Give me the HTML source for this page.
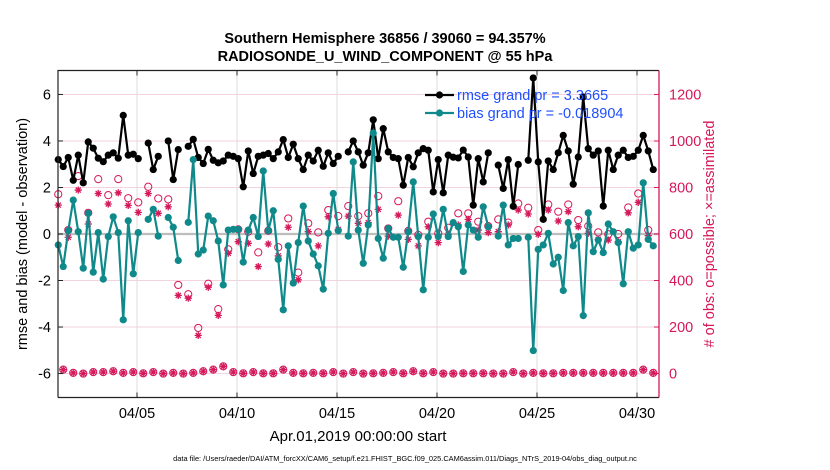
<!DOCTYPE html>
<html><head><meta charset="utf-8"><style>
html,body{margin:0;padding:0;background:#fff;}
svg{display:block;font-family:"Liberation Sans",Arial,sans-serif;}
</style></head><body>
<svg id="chart" width="830" height="470" viewBox="0 0 830 470">
  <rect x="0" y="0" width="830" height="470" fill="#fff"/>
  <text x="385" y="43" text-anchor="middle" font-size="14.5" font-weight="bold">Southern Hemisphere 36856 / 39060 = 94.357%</text>
  <text x="385" y="61" text-anchor="middle" font-size="14.5" font-weight="bold">RADIOSONDE_U_WIND_COMPONENT @ 55 hPa</text>
  <g id="grid"></g>
  <g id="marks"></g>
  <g id="axes"></g>
  <text transform="translate(27,234) rotate(-90)" text-anchor="middle" font-size="14.5">rmse and bias (model - observation)</text>
  <text transform="translate(714,234) rotate(-90)" text-anchor="middle" font-size="14.5" fill="#d6175a"># of obs: o=possible; ×=assimilated</text>
  <text x="358" y="441" text-anchor="middle" font-size="15">Apr.01,2019 00:00:00 start</text>
  <text x="405" y="461" text-anchor="middle" font-size="7.4">data file: /Users/raeder/DAI/ATM_forcXX/CAM6_setup/f.e21.FHIST_BGC.f09_025.CAM6assim.011/Diags_NTrS_2019-04/obs_diag_output.nc</text>
  <g id="legend"></g>
</svg>
<script>
const rmse = [3.2,2.9,3.29,2.31,3.39,2.2,3.96,3.69,3.26,3.11,3.39,3.49,3.26,5.1,3.39,3.43,3.24,null,3.91,2.77,
3.34,null,4.0,2.34,3.63,null,3.77,4.07,3.29,3.03,3.64,3.17,3.06,3.14,3.39,3.34,3.24,2.03,3.57,2.6,
3.34,3.39,3.46,3.24,3.53,4.06,3.29,3.86,3.24,2.77,3.39,3.14,3.6,2.91,3.49,3.03,3.34,null,3.53,4.0,
3.53,2.96,3.49,4.91,3.24,4.53,3.53,3.29,3.24,2.1,3.29,2.89,3.49,3.67,3.6,1.81,3.2,1.77,3.39,3.3,
3.27,3.61,3.31,1.24,3.24,2.24,3.49,null,2.96,1.96,3.2,1.19,2.99,null,3.17,6.71,3.1,0.63,3.14,2.77,
3.49,4.24,3.57,2.14,3.31,5.89,3.67,3.39,3.57,1.2,3.6,2.77,3.39,3.6,3.29,3.34,3.6,4.24,3.57,2.77];
const bias = [-0.47,-1.4,0.14,1.46,0.1,-1.47,0.89,-1.64,0.06,-1.94,-0.11,0.74,0.06,-3.69,0.57,-1.71,0.06,null,0.63,1.06,
-0.09,null,0.71,0.29,-1.14,null,0.5,3.2,-0.86,-0.69,0.77,0.57,-0.3,-2.19,0.17,0.2,0.2,-1.21,0.17,0.71,
-0.11,2.71,0.14,1.0,-1.09,-3.26,-0.51,-2.11,-0.37,1.2,-0.3,-0.86,-1.37,-2.37,0.03,1.74,0.14,null,-0.09,3.1,
0.17,-1.26,0.39,4.34,-0.19,-1.04,0.24,-0.14,-0.14,-1.43,0.1,2.24,-0.11,-2.4,-0.14,0.86,-0.11,1.06,-0.11,0.49,
0.31,-1.61,0.39,0.17,-0.14,1.17,0.31,null,-0.09,1.24,-0.47,-0.19,-0.19,null,-0.14,-5.01,-0.66,-0.47,0.03,-1.29,
-1.0,-2.43,0.49,-0.51,-0.11,-3.51,0.91,-0.76,-0.26,-0.8,0.43,0.1,-0.37,-2.14,0.1,-0.61,-0.47,2.2,-0.23,-0.51];
const possible = [771,17,617,3,849,0,691,6,836,6,767,10,836,3,754,6,736,1,803,6,
753,0,749,3,381,0,341,3,196,10,386,17,277,31,534,6,620,1,610,6,
521,1,614,1,543,17,667,3,434,1,646,3,607,1,703,6,677,0,720,6,
677,0,689,1,763,3,624,6,741,1,613,10,596,1,653,6,603,0,627,0,
689,1,689,1,653,1,634,0,663,0,649,6,731,0,713,3,617,1,727,1,
696,3,727,3,660,3,634,3,607,3,599,3,600,3,714,3,774,17,617,3];
const assimilated = [724,17,586,3,789,0,643,6,774,6,729,10,777,3,723,6,693,1,774,6,
689,0,717,3,336,0,324,3,164,10,371,17,250,31,517,6,567,1,560,6,
460,1,557,1,506,17,629,3,403,1,610,3,549,1,674,6,620,0,677,6,
646,0,649,1,706,3,591,6,681,1,577,10,549,1,631,6,563,0,599,0,
639,1,663,1,617,1,606,0,610,0,639,6,703,0,686,3,599,1,703,1,
656,3,696,3,631,3,603,3,577,3,574,3,567,3,691,3,736,17,593,3];
const leftTicks = [-6,-4,-2,0,2,4,6];
const rightTicks = [0,200,400,600,800,1000,1200];
const dateTickDays = [4,9,14,19,24,29];
const dateTickLabels = ["04/05","04/10","04/15","04/20","04/25","04/30"];
const legendLabels = ["rmse grand pr = 3.3665","bias grand pr = -0.018904"];

const NS="http://www.w3.org/2000/svg";
const PL=58, PR=659, PT=70.5, PB=397.5;
const D0=0.05, D1=30.1, Y0=-7.03, Y1=7.03;
function xs(d){return PL+(d-D0)/(D1-D0)*(PR-PL);}
function ys(v){return PB-(v-Y0)/(Y1-Y0)*(PB-PT);}
function yc(c){return ys(-6+c/100);}
function tday(k){return 0.0625+0.25*k;}
function mk(tag,attrs,parent){const e=document.createElementNS(NS,tag);for(const a in attrs)e.setAttribute(a,attrs[a]);parent.appendChild(e);return e;}
const grid=document.getElementById('grid'),marks=document.getElementById('marks'),axes=document.getElementById('axes'),legend=document.getElementById('legend');
const RED="#d6175a", TEAL="#10898a";

// grid
rightTicks.forEach(c=>{const l=mk('line',{x1:PL,x2:PR,y1:yc(c),y2:yc(c),stroke:"#f3d3df","stroke-width":1},grid);

});
dateTickDays.forEach(d=>{const l=mk('line',{x1:xs(d),x2:xs(d),y1:PT,y2:PB,stroke:"#dcdcdc","stroke-width":1},grid);

});
const zl=mk('line',{x1:PL,x2:PR,y1:ys(0),y2:ys(0),stroke:"#bdbdbd","stroke-width":2.2},grid);



// lines
function drawSeries(arr,color,name){
  let segs=[],cur=[];
  arr.forEach((v,k)=>{if(v===null){if(cur.length)segs.push(cur);cur=[];}else cur.push([xs(tday(k)),ys(v)]);});
  if(cur.length)segs.push(cur);
  segs.forEach(s=>{const p=mk('polyline',{points:s.map(q=>q.join(',')).join(' '),fill:"none",stroke:color,"stroke-width":2.2,"stroke-linejoin":"round"},marks);
  
  });
  arr.forEach((v,k)=>{if(v===null)return;const c=mk('circle',{cx:xs(tday(k)),cy:ys(v),r:3.6,fill:color},marks);
  
  });
}
// counts
possible.forEach((c,k)=>{const e=mk('circle',{cx:xs(tday(k)),cy:yc(c),r:3.6,fill:"none",stroke:RED,"stroke-width":1},marks);

});
assimilated.forEach((c,k)=>{const x=xs(tday(k)),y=yc(c),r=3.6;let d='';
for(let i=0;i<4;i++){const a=i*Math.PI/4;d+=`M${x-r*Math.cos(a)},${y-r*Math.sin(a)}L${x+r*Math.cos(a)},${y+r*Math.sin(a)}`;}
const e=mk('path',{d:d,stroke:RED,"stroke-width":1.3,fill:"none"},marks);

});
drawSeries(rmse,"#000",'rmse');
drawSeries(bias,TEAL,'bias');

// axes
const bl=mk('path',{d:`M${PL},${PB}L${PL},${PT}L${PR},${PT}M${PL},${PB}L${PR},${PB}`,stroke:"#222",fill:"none","stroke-width":1.2},axes);


const ra=mk('line',{x1:PR,x2:PR,y1:PT,y2:PB,stroke:RED,"stroke-width":1.3},axes);


leftTicks.forEach(v=>{mk('line',{x1:PL,x2:PL+5,y1:ys(v),y2:ys(v),stroke:"#222"},axes);
const t=mk('text',{x:PL-7,y:ys(v)+5,"text-anchor":"end","font-size":14.5},axes);t.textContent=v;

});
rightTicks.forEach(c=>{mk('line',{x1:PR-5,x2:PR,y1:yc(c),y2:yc(c),stroke:RED},axes);
const t=mk('text',{x:PR+10,y:yc(c)+5,"font-size":14.5,fill:RED},axes);t.textContent=c;

});
dateTickDays.forEach((d,i)=>{mk('line',{x1:xs(d),x2:xs(d),y1:PB,y2:PB-5,stroke:"#222"},axes);
mk('line',{x1:xs(d),x2:xs(d),y1:PT,y2:PT+5,stroke:"#222"},axes);
const t=mk('text',{x:xs(d),y:418,"text-anchor":"middle","font-size":14.5},axes);t.textContent=dateTickLabels[i];

});

// legend
[["#000",95],[TEAL,113]].forEach((s,i)=>{
const l=mk('line',{x1:425,x2:454,y1:s[1],y2:s[1],stroke:s[0],"stroke-width":2.2},legend);


mk('circle',{cx:439.5,cy:s[1],r:3.6,fill:s[0]},legend);
const t=mk('text',{x:457,y:s[1]+5,"font-size":14.5,fill:"#1f4fff"},legend);t.textContent=legendLabels[i];

});
</script>
</body></html>
